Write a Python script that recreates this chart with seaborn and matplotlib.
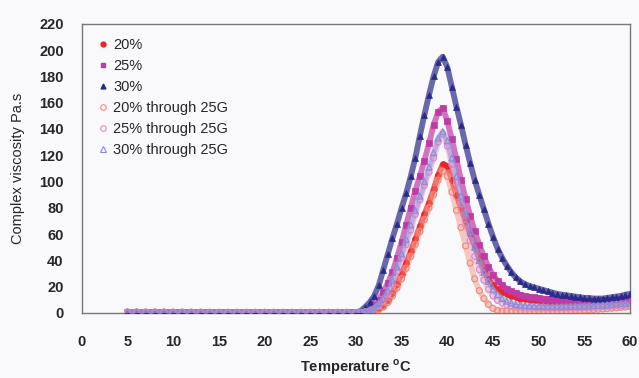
import numpy as np
import pandas as pd
import matplotlib
matplotlib.use("Agg")
import matplotlib.pyplot as plt
import seaborn as sns
from matplotlib.lines import Line2D

# ======================
# data
# ======================
temp_low = [5, 6, 7, 8, 9, 10, 11, 12, 13, 14, 15, 16, 17, 18, 19, 20,
            21, 22, 23, 24, 25, 26, 27, 28, 29]
temp_high = [30.0, 30.5, 31.0, 31.5, 32.0, 32.5, 33.0, 33.5, 34.0, 34.5,
             35.0, 35.5, 36.0, 36.5, 37.0, 37.5, 38.0, 38.5, 39.0, 39.5,
             40.0, 40.5, 41.0, 41.5, 42.0, 42.5, 43.0, 43.5, 44.0, 44.5,
             45.0, 45.5, 46.0, 46.5, 47.0, 47.5, 48.0, 48.5, 49.0, 49.5,
             50.0, 50.5, 51.0, 51.5, 52.0, 52.5, 53.0, 53.5, 54.0, 54.5,
             55.0, 55.5, 56.0, 56.5, 57.0, 57.5, 58.0, 58.5, 59.0, 59.5, 60.0]

baseline = [0.8, 0.8, 0.7, 0.7, 0.7, 0.6, 0.6, 0.6, 0.6, 0.5, 0.5, 0.5, 0.5,
            0.5, 0.5, 0.5, 0.5, 0.5, 0.5, 0.5, 0.5, 0.5, 0.5, 0.5, 0.5]

v20 = [0.3, 0.5, 0.7, 1.0, 2.0, 3.5, 6, 10, 15, 22,
       30, 38, 47, 56, 66, 75, 84, 94, 105, 113,
       112, 101, 90, 80, 70, 60, 51, 42, 33, 26,
       21, 18, 16, 14.5, 13, 12, 11, 10.5, 10, 9.5,
       9, 8.8, 8.6, 8.5, 8.4, 8.3, 8.2, 8.2, 8.2, 8.3,
       8.4, 8.5, 8.6, 8.8, 9, 9.2, 9.4, 9.6, 9.8, 10, 10.2]
v25 = [0.5, 0.8, 1.5, 3, 6, 10, 16, 23, 31, 42,
       54, 67, 80, 93, 104, 116, 129, 143, 153, 156,
       146, 132, 117, 101, 87, 74, 62, 52, 43, 35,
       29, 24.5, 21, 18.5, 16.5, 15, 14, 13, 12.5, 12,
       11.5, 11, 10.7, 10.4, 10.2, 10, 9.8, 9.6, 9.5, 9.4,
       9.3, 9.3, 9.3, 9.4, 9.5, 9.7, 9.9, 10.1, 10.4, 10.7, 11]
v30 = [0.5, 1.5, 4.5, 8, 13, 21, 33, 45, 57, 68,
       80, 91, 104, 118, 135, 151, 166, 180, 191, 195,
       187, 172, 157, 143, 128, 114, 101, 90, 79, 68,
       58, 49, 42, 36, 31, 27, 24, 22, 20.5, 19.5,
       18.5, 17.5, 16.5, 15.5, 14.5, 14, 13.5, 13, 12.5, 12,
       11.5, 11.5, 11, 11, 11, 11.5, 12, 12.5, 13, 14, 14.5]
v20g = [0.2, 0.3, 0.5, 0.8, 1.3, 2.5, 4.5, 8, 13, 19,
        26, 34, 43, 52, 62, 71, 80, 90, 101, 108,
        104, 92, 78, 65, 51, 38, 26, 17, 11, 6.5,
        3.5, 2, 1.5, 1.4, 1.3, 1.3, 1.3, 1.3, 1.3, 1.3,
        1.3, 1.4, 1.4, 1.5, 1.5, 1.6, 1.7, 1.8, 1.9, 2.0,
        2.2, 2.4, 2.6, 2.8, 3.0, 3.3, 3.6, 3.9, 4.2, 4.5, 4.8]
v25g = [0.3, 0.5, 0.8, 1.5, 3, 5.5, 9, 14, 22, 32,
        42, 52, 63, 75, 86, 97, 107, 118, 130, 136,
        127, 113, 99, 83, 67, 55, 43, 33, 25, 18,
        13, 9.5, 7.5, 6, 5, 4.5, 4.2, 4.0, 3.9, 3.8,
        3.8, 3.8, 3.8, 3.8, 3.8, 3.9, 3.9, 4.0, 4.0, 4.1,
        4.2, 4.3, 4.4, 4.6, 4.8, 5.0, 5.2, 5.4, 5.6, 5.8, 6]
v30g = [0.4, 0.7, 1.2, 2.2, 4, 7, 11, 17, 25, 35,
        45, 56, 67, 78, 89, 100, 111, 122, 133, 138,
        131, 118, 104, 89, 75, 62, 50, 40, 31, 24,
        18, 14, 11, 9, 7.5, 6.5, 6, 5.6, 5.4, 5.2,
        5.0, 4.9, 4.8, 4.8, 4.8, 4.8, 4.9, 5.0, 5.0, 5.1,
        5.2, 5.3, 5.5, 5.7, 5.9, 6.1, 6.4, 6.7, 7.0, 7.3, 7.6]

series_names = ["20%", "25%", "30%", "20% through 25G", "25% through 25G", "30% through 25G"]
series_vals = [v20, v25, v30, v20g, v25g, v30g]
colors = ["#ee2222", "#c03aa6", "#2a2a8a", "#f28a78", "#e58ac8", "#8c8cd8"]
markers = ["o", "s", "^", "o", "o", "^"]
filled = [True, True, True, False, False, False]

# draw order: hollow ones first, filled on top
draw_order = [4, 5, 3, 1, 0, 2]

# ======================
# plot
# ======================
sns.set_style("white")
plt.rcParams["font.family"] = ["Liberation Sans", "DejaVu Sans"]

bg = "#f9f9fb"
fig = plt.figure(figsize=(6.39, 3.78), dpi=100, facecolor=bg)
ax = fig.add_axes([0.128, 0.172, 0.858, 0.765])
ax.set_facecolor(bg)

temps = np.array(temp_low + temp_high, dtype=float)
rows = []
for name, vals in zip(series_names, series_vals):
    for t, v in zip(temps, baseline + vals):
        rows.append({"series": name, "T": t, "v": v})
df = pd.DataFrame(rows)

for i in draw_order:
    name = series_names[i]
    d = df[df["series"] == name]
    c = colors[i]
    sns.lineplot(data=d, x="T", y="v", ax=ax, color=c, lw=4.2,
                 alpha=0.45 if not filled[i] else 0.7, zorder=2 + i)
    if filled[i]:
        ax.scatter(d["T"], d["v"], marker=markers[i], s=18, color=c,
                   edgecolor=c, linewidth=0.5, zorder=3 + i)
    else:
        ax.scatter(d["T"], d["v"], marker=markers[i], s=18,
                   facecolor="none", edgecolor=c, linewidth=0.9,
                   zorder=3 + i)

# legend with proxy markers
leg_handles = []
for i, name in enumerate(series_names):
    if filled[i]:
        h = Line2D([], [], ls="none", marker=markers[i], ms=3.5,
                   color=colors[i], mec=colors[i])
    else:
        h = Line2D([], [], ls="none", marker=markers[i], ms=4,
                   mfc="none", mec=colors[i], mew=0.8)
    leg_handles.append(h)
ax.legend(leg_handles, series_names, loc="upper left",
          bbox_to_anchor=(0.012, 0.985), frameon=False, fontsize=10.5,
          handlelength=0.6, handletextpad=0.4, labelspacing=0.48,
          borderaxespad=0.3)

ax.set_xlim(0, 60)
ax.set_ylim(0, 220)
ax.set_xticks(range(0, 61, 5))
ax.set_yticks(range(0, 221, 20))
ax.tick_params(direction="in", length=3, width=0.8, color="#555555",
               labelsize=10.5)
for lab in ax.get_xticklabels() + ax.get_yticklabels():
    lab.set_fontweight("bold")
ax.tick_params(axis="y", pad=13)
ax.tick_params(axis="x", pad=16)
for s in ax.spines.values():
    s.set_color("#777777")
    s.set_linewidth(1.0)

ax.set_xlabel("Temperature $^{\\mathregular{o}}$C", fontsize=10.5,
              fontweight="bold", labelpad=6)
ax.set_ylabel("Complex viscosity Pa.s", fontsize=10.5, labelpad=10)

fig.savefig("out.png", dpi=100, facecolor=bg)
